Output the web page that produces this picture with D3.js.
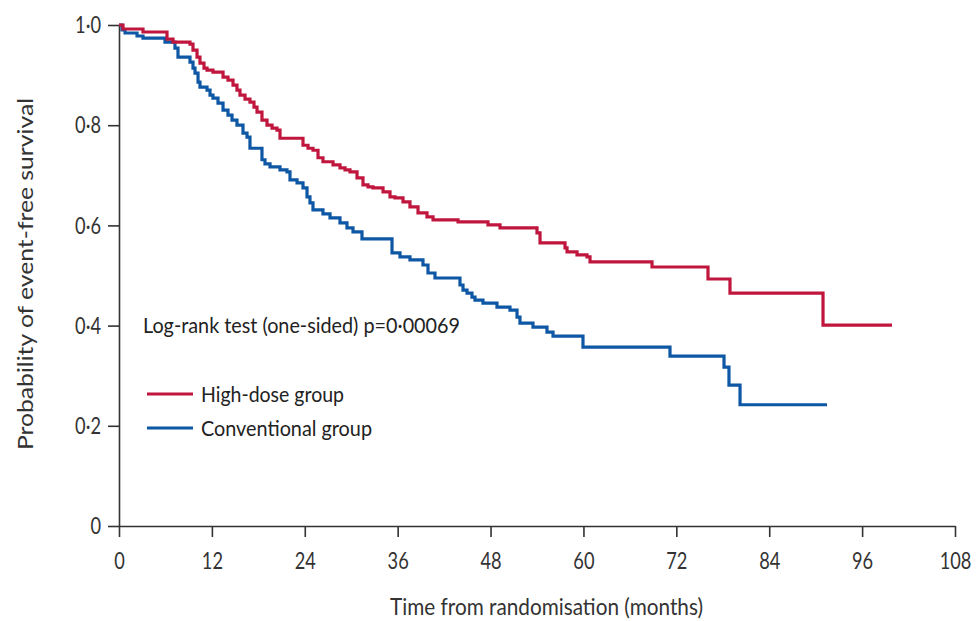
<!DOCTYPE html>
<html>
<head>
<meta charset="utf-8">
<script src="https://cdn.jsdelivr.net/npm/d3@7"></script>
<style>
  body { margin: 0; background: #fff; }
  .tick text { font-family: Lato, sans-serif; font-size: 24px; fill: #333; }
</style>
</head>
<body>
<div id="chart"></div>
<script>
// months / survival
var highDoseTime = [0, 0.52, 3.10, 6.20, 6.98, 9.17, 9.56, 10.08, 10.46, 10.98, 11.37, 12.14, 13.44, 14.08, 14.73, 15.24, 15.63, 16.28, 16.92, 17.44, 17.83, 18.47, 19.12, 19.77, 20.41, 20.80, 23.77, 24.42, 25.06, 25.71, 26.35, 27.65, 28.55, 29.20, 29.84, 30.75, 31.52, 32.17, 32.81, 34.11, 35.01, 35.66, 36.69, 37.59, 38.63, 39.79, 40.57, 43.80, 47.67, 49.22, 54.00, 54.39, 57.62, 57.88, 59.17, 60.46, 60.85, 68.86, 76.09, 78.93, 90.95, 99.86];
var highDoseSurv = [1.0, 0.992, 0.986, 0.972, 0.966, 0.962, 0.950, 0.936, 0.924, 0.914, 0.910, 0.906, 0.896, 0.890, 0.880, 0.870, 0.860, 0.852, 0.846, 0.836, 0.826, 0.810, 0.800, 0.794, 0.790, 0.774, 0.760, 0.754, 0.750, 0.735, 0.727, 0.721, 0.715, 0.711, 0.707, 0.695, 0.681, 0.677, 0.675, 0.667, 0.657, 0.655, 0.647, 0.637, 0.625, 0.617, 0.611, 0.607, 0.601, 0.595, 0.585, 0.565, 0.555, 0.547, 0.541, 0.537, 0.527, 0.517, 0.493, 0.465, 0.401, 0.401];

var convTime = [0, 0.39, 0.78, 2.33, 3.10, 5.94, 7.23, 7.62, 9.17, 9.56, 9.82, 10.21, 10.46, 11.37, 11.76, 12.14, 12.79, 13.44, 14.08, 14.60, 15.24, 16.02, 16.54, 16.92, 18.47, 18.86, 19.51, 20.80, 21.70, 22.09, 23.00, 23.77, 24.29, 24.67, 25.06, 26.35, 27.26, 28.55, 29.45, 30.23, 31.39, 35.27, 36.30, 37.59, 39.27, 39.92, 40.82, 44.05, 44.44, 44.96, 45.60, 45.99, 47.02, 48.83, 50.51, 51.42, 51.80, 53.48, 55.29, 56.07, 59.94, 71.18, 78.16, 78.80, 80.23, 91.47];
var convSurv = [1.0, 0.990, 0.984, 0.978, 0.974, 0.966, 0.954, 0.936, 0.926, 0.914, 0.904, 0.886, 0.876, 0.870, 0.860, 0.854, 0.844, 0.830, 0.820, 0.810, 0.800, 0.784, 0.776, 0.754, 0.731, 0.723, 0.717, 0.711, 0.707, 0.691, 0.685, 0.675, 0.657, 0.645, 0.631, 0.623, 0.615, 0.605, 0.595, 0.587, 0.573, 0.545, 0.537, 0.531, 0.521, 0.505, 0.495, 0.481, 0.471, 0.465, 0.457, 0.451, 0.445, 0.437, 0.431, 0.417, 0.405, 0.397, 0.387, 0.379, 0.357, 0.339, 0.317, 0.281, 0.242, 0.242];

var xTicks = [0, 12, 24, 36, 48, 60, 72, 84, 96, 108];
var yTicks = [0, 0.2, 0.4, 0.6, 0.8, 1.0];
var yTickLabels = ["0", "0·2", "0·4", "0·6", "0·8", "1·0"];

var seriesNames = ["High-dose group", "Conventional group"];
var seriesColours = ["#c0163d", "#0d57a5"];

var w = 977;
var h = 621;

var x = d3.scaleLinear().domain([0, 108]).range([119, 955]);
var y = d3.scaleLinear().domain([0, 1]).range([526, 25]);

var svg = d3.select("#chart")
  .append("svg")
  .attr("width", w)
  .attr("height", h);

// x axis
svg.append("g")
  .attr("transform", "translate(0," + y(0) + ")")
  .call(d3.axisBottom(x).tickValues(xTicks).tickSize(11).tickPadding(15).tickSizeOuter(0));

// y axis
svg.append("g")
  .attr("transform", "translate(" + x(0) + ",0)")
  .call(d3.axisLeft(y).tickValues(yTicks).tickSize(11).tickPadding(7).tickSizeOuter(0)
    .tickFormat(function(d, i) { return yTickLabels[i]; }));

svg.selectAll(".domain").attr("stroke", "#333").attr("stroke-width", 1.6);
svg.selectAll(".tick line").attr("stroke", "#333").attr("stroke-width", 1.6);

// squeeze tick labels sideways, the original uses a condensed face
svg.selectAll(".tick text").each(function() {
  var t = d3.select(this);
  var tx = +t.attr("x") || 0;
  var ty = +t.attr("y") || 0;
  t.attr("x", 0).attr("y", 0)
    .attr("transform", "translate(" + tx + "," + ty + ") scale(0.76,1)");
});

// axis titles
svg.append("text")
  .attr("x", 390)
  .attr("y", 615)
  .attr("textLength", 313)
  .attr("lengthAdjust", "spacingAndGlyphs")
  .style("font-family", "Lato, sans-serif")
  .style("font-size", "23px")
  .style("fill", "#333")
  .text("Time from randomisation (months)");

svg.append("text")
  .attr("transform", "translate(33,450) rotate(-90)")
  .attr("textLength", 352)
  .attr("lengthAdjust", "spacingAndGlyphs")
  .style("font-family", "Lato, sans-serif")
  .style("font-size", "22px")
  .style("fill", "#333")
  .text("Probability of event-free survival");

// survival curves
var line = d3.line()
  .x(function(d) { return x(d[0]); })
  .y(function(d) { return y(d[1]); })
  .curve(d3.curveStepAfter);

var curves = [
  d3.zip(highDoseTime, highDoseSurv),
  d3.zip(convTime, convSurv)
];

// conventional first so high-dose sits on top
[1, 0].forEach(function(i) {
  svg.append("path")
    .datum(curves[i])
    .attr("d", line)
    .attr("fill", "none")
    .attr("stroke", seriesColours[i])
    .attr("stroke-width", 3.2);
});

// log-rank annotation
svg.append("text")
  .attr("x", 143)
  .attr("y", 333)
  .attr("textLength", 317)
  .attr("lengthAdjust", "spacingAndGlyphs")
  .style("font-family", "Lato, sans-serif")
  .style("font-size", "21px")
  .style("fill", "#222")
  .text("Log-rank test (one-sided) p=0·00069");

// legend
var legend = svg.selectAll(".legend")
  .data(seriesNames)
  .enter()
  .append("g")
  .attr("class", "legend")
  .attr("transform", function(d, i) { return "translate(147," + (394 + i * 34) + ")"; });

legend.append("line")
  .attr("x1", 0)
  .attr("x2", 46)
  .attr("stroke", function(d, i) { return seriesColours[i]; })
  .attr("stroke-width", 3.2);

legend.append("text")
  .attr("x", 54)
  .attr("y", 8)
  .attr("textLength", function(d, i) { return i === 0 ? 143 : 171; })
  .attr("lengthAdjust", "spacingAndGlyphs")
  .style("font-family", "Lato, sans-serif")
  .style("font-size", "21px")
  .style("fill", "#222")
  .text(function(d) { return d; });
</script>
</body>
</html>
